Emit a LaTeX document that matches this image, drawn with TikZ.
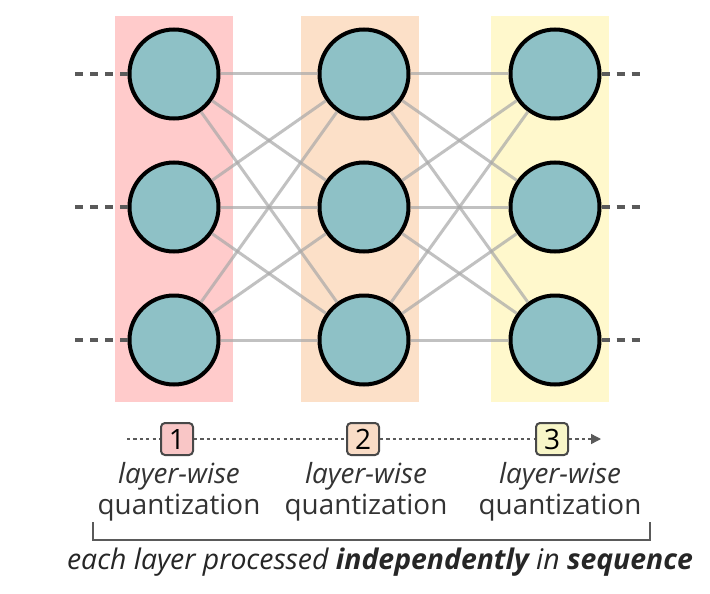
\documentclass[tikz,border=0pt]{standalone}
\usepackage{fontspec}
\setmainfont{Open Sans}
\usepackage{tikz}
\usetikzlibrary{arrows.meta,positioning}
\usepackage{xcolor}
\definecolor{bandred}{HTML}{FFCBCB}
\definecolor{bandorange}{HTML}{FCE0C8}
\definecolor{bandyellow}{HTML}{FFF8CC}
\definecolor{neuronteal}{HTML}{8EC1C6}
\definecolor{wiregrey}{HTML}{A8A8A8}
\definecolor{stubgrey}{HTML}{5A5A5A}
\definecolor{boxred}{HTML}{F9C6C6}
\definecolor{boxorange}{HTML}{F9DCC6}
\definecolor{boxyellow}{HTML}{F8F6C8}
\tikzset{
  neuron/.style={circle, draw=black, line width=2pt, fill=neuronteal,
                 minimum size=44.5pt, inner sep=0pt},
  wire/.style={draw=wiregrey, line width=1.5pt, opacity=0.7},
  stub/.style={draw=stubgrey, line width=2pt, dash pattern=on 4pt off 3.5pt},
  stepnum/.style={draw=stubgrey!80!black, line width=1pt, rounded corners=2pt,
                  minimum size=16pt, inner sep=0pt, font=\fontsize{14}{16}\selectfont},
  timeline/.style={draw=stubgrey, line width=0.7pt, dash pattern=on 1.6pt off 1.6pt},
  steplabel/.style={align=center, font=\fontsize{13.9}{15.5}\selectfont, text=black!80},
  bracket/.style={draw=stubgrey, line width=0.8pt},
}
\begin{document}
\begin{tikzpicture}[x=0.5pt, y=-0.5pt]
\useasboundingbox[fill=white] (0,0) rectangle (710,593);
% layer bands
\fill[bandred]    (115,16) rectangle (233,402);
\fill[bandorange] (301,16) rectangle (419,402);
\fill[bandyellow] (491,16) rectangle (609,402);
% neurons
\node[neuron] (a1) at (174,74)  {};
\node[neuron] (a2) at (174,207) {};
\node[neuron] (a3) at (174,340) {};
\node[neuron] (b1) at (364,74)  {};
\node[neuron] (b2) at (364,207) {};
\node[neuron] (b3) at (364,340) {};
\node[neuron] (c1) at (555,74)  {};
\node[neuron] (c2) at (555,207) {};
\node[neuron] (c3) at (555,340) {};
% dangling inputs and outputs
\coordinate (in1) at (75,74);
\coordinate (in2) at (75,207);
\coordinate (in3) at (75,340);
\coordinate (out1) at (644,74);
\coordinate (out2) at (644,207);
\coordinate (out3) at (644,340);
\draw[wire] (a1) -- (b1);
\draw[wire] (a1) -- (b2);
\draw[wire] (a1) -- (b3);
\draw[wire] (a2) -- (b1);
\draw[wire] (a2) -- (b2);
\draw[wire] (a2) -- (b3);
\draw[wire] (a3) -- (b1);
\draw[wire] (a3) -- (b2);
\draw[wire] (a3) -- (b3);
\draw[wire] (b1) -- (c1);
\draw[wire] (b1) -- (c2);
\draw[wire] (b1) -- (c3);
\draw[wire] (b2) -- (c1);
\draw[wire] (b2) -- (c2);
\draw[wire] (b2) -- (c3);
\draw[wire] (b3) -- (c1);
\draw[wire] (b3) -- (c2);
\draw[wire] (b3) -- (c3);
\draw[stub] (a1) -- (in1);
\draw[stub] (a2) -- (in2);
\draw[stub] (a3) -- (in3);
\draw[stub] (c1) -- (out1);
\draw[stub] (c2) -- (out2);
\draw[stub] (c3) -- (out3);
% processing order
\node[stepnum, fill=boxred]    (s1) at (177,439) {1};
\node[stepnum, fill=boxorange] (s2) at (363,439) {2};
\node[stepnum, fill=boxyellow] (s3) at (552,439) {3};
\coordinate (start) at (127,439);
\coordinate (finish) at (601,439);
\draw[timeline] (start) -- (s1);
\draw[timeline] (s1) -- (s2);
\draw[timeline] (s2) -- (s3);
\draw[timeline, -{Triangle[length=5pt, width=5pt]}] (s3) -- (finish);
\node[steplabel] (l1) at (179,492) {\textit{layer-wise}\\quantization};
\node[steplabel] (l2) at (366,492) {\textit{layer-wise}\\quantization};
\node[steplabel] (l3) at (560,492) {\textit{layer-wise}\\quantization};
% bracket and caption
\coordinate (bl) at (93,522);
\coordinate (br) at (650,522);
\draw[bracket] (bl) -- ++(0,18) -| (br);
\node[font=\fontsize{14.2}{17}\selectfont, text=black!85] (cap) at (380,562)
  {\textit{each layer processed \textbf{independently} in \textbf{sequence}}};
\end{tikzpicture}
\end{document}
